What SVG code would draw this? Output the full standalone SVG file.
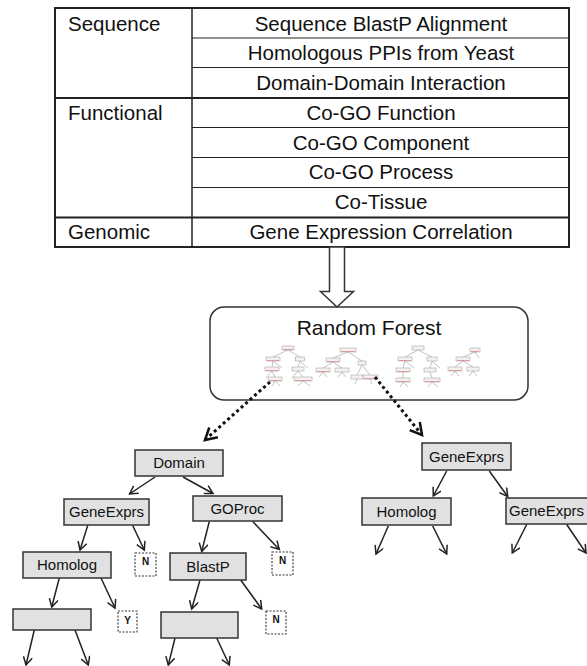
<svg xmlns="http://www.w3.org/2000/svg" width="587" height="666" viewBox="0 0 587 666">
<defs>
<style>
text{font-family:"Liberation Sans",Arial,sans-serif;fill:#111}
.tt{font-size:20.5px}
.tc{text-anchor:middle}
.nt{font-size:15px;text-anchor:middle}
.lt{font-size:10px;text-anchor:middle;font-weight:bold}
.box{fill:#e1e1e1;stroke:#333;stroke-width:1.5}
.leaf{fill:#fff;stroke:#333;stroke-width:1.1;stroke-dasharray:2 1.5}
.grid{stroke:#222;fill:none}
.arr{stroke:#222;stroke-width:1.5;fill:none;marker-end:url(#ah)}
.dot{stroke:#111;stroke-width:3;fill:none;stroke-dasharray:3 3;marker-end:url(#dh)}
.mb{fill:#f7f0f0;stroke:#a8a8a8;stroke-width:0.6}
.mr{stroke:#d98c8c;stroke-width:0.8}
.ml{stroke:#999;stroke-width:0.6;fill:none}
</style>
<marker id="ah" markerWidth="12" markerHeight="12" refX="9" refY="5" orient="auto" markerUnits="userSpaceOnUse">
<path d="M1,0.5 L9,5 L1,9.5" fill="none" stroke="#222" stroke-width="1.5"/>
</marker>
<marker id="dh" markerWidth="18" markerHeight="18" refX="13" refY="8" orient="auto" markerUnits="userSpaceOnUse">
<path d="M1.5,1.5 L13,8 L1.5,14.5" fill="none" stroke="#111" stroke-width="2.5"/>
</marker>
</defs>
<rect width="587" height="666" fill="#fff"/>

<g id="table">
<rect x="55" y="8" width="514" height="239" class="grid" stroke-width="2"/>
<line x1="192" y1="8" x2="192" y2="247" class="grid" stroke-width="1.5"/>
<line x1="55" y1="98" x2="569" y2="98" class="grid" stroke-width="2"/>
<line x1="55" y1="217.5" x2="569" y2="217.5" class="grid" stroke-width="2"/>
<g class="grid" stroke-width="1.2">
<line x1="192" y1="38" x2="569" y2="38"/>
<line x1="192" y1="67.5" x2="569" y2="67.5"/>
<line x1="192" y1="127.5" x2="569" y2="127.5"/>
<line x1="192" y1="157.5" x2="569" y2="157.5"/>
<line x1="192" y1="187.5" x2="569" y2="187.5"/>
</g>
<text class="tt" x="68" y="31">Sequence</text>
<text class="tt" x="68" y="120">Functional</text>
<text class="tt" x="68" y="239">Genomic</text>
<text class="tt tc" x="381" y="31">Sequence BlastP Alignment</text>
<text class="tt tc" x="381" y="60">Homologous PPIs from Yeast</text>
<text class="tt tc" x="381" y="89.5">Domain-Domain Interaction</text>
<text class="tt tc" x="381" y="120">Co-GO Function</text>
<text class="tt tc" x="381" y="150">Co-GO Component</text>
<text class="tt tc" x="381" y="179">Co-GO Process</text>
<text class="tt tc" x="381" y="209">Co-Tissue</text>
<text class="tt tc" x="381" y="239">Gene Expression Correlation</text>
</g>

<g id="random-forest">
<rect x="210" y="307" width="318" height="93" rx="14" fill="#fff" stroke="#333" stroke-width="1.5"/>
<text x="369" y="335" font-size="21" text-anchor="middle">Random Forest</text>
<g id="mini-trees">
<path class="ml" d="M288,350 L273,357 M288,350 L300,357 M273,361 L272,367 M273,361 L282,368 M300,361 L298,367 M300,361 L308,368 M272,371 L275,377 M272,371 L266,378 M298,371 L303,377 M298,371 L292,378 M275,381 L272,386 M275,381 L280,386 M303,381 L298,386 M303,381 L310,386"/>
<rect class="mb" x="282" y="346" width="12" height="4"/><line class="mr" x1="283" y1="349.5" x2="293" y2="349.5"/>
<rect class="mb" x="266" y="357" width="14" height="4"/><line class="mr" x1="267" y1="360.5" x2="279" y2="360.5"/>
<rect class="mb" x="295.5" y="357" width="9" height="4"/>
<rect class="mb" x="265" y="367" width="14" height="4"/><line class="mr" x1="266" y1="370.5" x2="278" y2="370.5"/>
<rect class="mb" x="292" y="367" width="12" height="4"/>
<rect class="mb" x="268" y="377" width="14" height="4"/><line class="mr" x1="269" y1="380.5" x2="281" y2="380.5"/>
<rect class="mb" x="294" y="377" width="18" height="4"/><line class="mr" x1="295" y1="380.5" x2="311" y2="380.5"/>

<path class="ml" d="M348,352 L333,358 M348,352 L362,361 M333,362 L323,368 M333,362 L342,368 M323,372 L319,377 M323,372 L327,377 M342,372 L338,377 M342,372 L346,377 M362,365 L357,375 M362,365 L370,375 M357,379 L355,384 M370,379 L372,384"/>
<rect class="mb" x="340" y="348" width="16" height="4"/><line class="mr" x1="341" y1="351.5" x2="355" y2="351.5"/>
<rect class="mb" x="326" y="358" width="14" height="4"/><line class="mr" x1="327" y1="361.5" x2="339" y2="361.5"/>
<rect class="mb" x="358" y="361" width="8" height="4"/>
<rect class="mb" x="316" y="368" width="14" height="4"/><line class="mr" x1="317" y1="371.5" x2="329" y2="371.5"/>
<rect class="mb" x="335" y="368" width="14" height="4"/>
<rect class="mb" x="351" y="375" width="12" height="4"/>
<rect class="mb" x="363" y="375" width="15" height="4"/><line class="mr" x1="364" y1="378.5" x2="377" y2="378.5"/>

<path class="ml" d="M418,350 L405,357 M418,350 L432,357 M405,361 L403,368 M405,361 L414,368 M432,361 L430,368 M432,361 L440,368 M403,372 L403,378 M430,372 L432,378 M403,382 L400,387 M403,382 L408,387 M432,382 L428,387 M432,382 L438,387"/>
<rect class="mb" x="412" y="346" width="12" height="4"/>
<rect class="mb" x="398" y="357" width="14" height="4"/><line class="mr" x1="399" y1="360.5" x2="411" y2="360.5"/>
<rect class="mb" x="427" y="357" width="10" height="4"/>
<rect class="mb" x="396" y="368" width="14" height="4"/><line class="mr" x1="397" y1="371.5" x2="409" y2="371.5"/>
<rect class="mb" x="424" y="368" width="12" height="4"/>
<rect class="mb" x="396" y="378" width="14" height="4"/><line class="mr" x1="397" y1="381.5" x2="409" y2="381.5"/>
<rect class="mb" x="424" y="378" width="16" height="4"/><line class="mr" x1="425" y1="381.5" x2="439" y2="381.5"/>

<path class="ml" d="M475,352 L463,357 M475,352 L479,358 M463,361 L455,367 M463,361 L473,367 M455,371 L451,376 M455,371 L459,376 M473,371 L469,376 M473,371 L477,376"/>
<rect class="mb" x="470" y="348" width="10" height="4"/><line class="mr" x1="471" y1="351.5" x2="479" y2="351.5"/>
<rect class="mb" x="456" y="357" width="14" height="4"/><line class="mr" x1="457" y1="360.5" x2="469" y2="360.5"/>
<rect class="mb" x="448" y="367" width="14" height="4"/><line class="mr" x1="449" y1="370.5" x2="461" y2="370.5"/>
<rect class="mb" x="467" y="367" width="12" height="4"/>
</g>
</g>

<g id="connectors">
<polygon points="329.5,247 344.5,247 344.5,291.5 353.5,291.5 337,307 320.5,291.5 329.5,291.5" fill="#fff" stroke="#333" stroke-width="1.5"/>
<path class="dot" d="M270,382 L205,440"/>
<path class="dot" d="M375,377 L422,435"/>
<path class="arr" d="M155,477 L129.5,494"/>
<path class="arr" d="M183,477 L213,493.5"/>
<path class="arr" d="M87.7,525.5 L80,550"/>
<path class="arr" d="M132.7,525.5 L144.3,550"/>
<path class="arr" d="M209.3,521.5 L201.7,551.5"/>
<path class="arr" d="M252.7,521.5 L279.3,549.5"/>
<path class="arr" d="M59.3,578 L51.7,607"/>
<path class="arr" d="M101,578 L115,608"/>
<path class="arr" d="M200,580 L191.7,609"/>
<path class="arr" d="M240.7,580 L261.7,609"/>
<path class="arr" d="M34.3,630 L26,665"/>
<path class="arr" d="M75,630 L88.3,665"/>
<path class="arr" d="M175,638 L168.3,665"/>
<path class="arr" d="M216.7,638 L229.3,665"/>
<path class="arr" d="M446.7,471 L433.3,496"/>
<path class="arr" d="M489.3,471 L507.7,496.5"/>
<path class="arr" d="M388.3,526 L376,554"/>
<path class="arr" d="M432.7,526 L446.7,554"/>
<path class="arr" d="M526.7,524.5 L512.3,553"/>
<path class="arr" d="M566.7,524.5 L586,553"/>
</g>

<g id="n-domain"><rect class="box" x="135" y="450" width="88" height="26"/><text class="nt" x="179" y="468">Domain</text></g>
<g id="n-geneexprs-l"><rect class="box" x="64" y="499" width="85" height="26"/><text class="nt" x="106.5" y="517">GeneExprs</text></g>
<g id="n-goproc"><rect class="box" x="193" y="496" width="89" height="25"/><text class="nt" x="237.5" y="514">GOProc</text></g>
<g id="n-homolog-l"><rect class="box" x="23" y="552" width="88" height="26"/><text class="nt" x="67" y="570">Homolog</text></g>
<g id="n-blastp"><rect class="box" x="170" y="553" width="76" height="27"/><text class="nt" x="208" y="571.5">BlastP</text></g>
<g id="n-empty-l"><rect class="box" x="13" y="609" width="78" height="21"/></g>
<g id="n-empty-m"><rect class="box" x="161" y="612" width="77" height="26"/></g>
<g id="leaf-n1"><rect class="leaf" x="135" y="553" width="21" height="23"/><text class="lt" x="145.5" y="565">N</text></g>
<g id="leaf-n2"><rect class="leaf" x="272" y="552" width="21" height="23"/><text class="lt" x="282.5" y="564">N</text></g>
<g id="leaf-y"><rect class="leaf" x="118" y="611" width="19" height="21"/><text class="lt" x="127.5" y="624">Y</text></g>
<g id="leaf-n3"><rect class="leaf" x="266" y="611" width="20" height="23"/><text class="lt" x="276" y="623">N</text></g>
<g id="n-geneexprs-r"><rect class="box" x="422" y="443" width="89" height="27"/><text class="nt" x="466.5" y="462">GeneExprs</text></g>
<g id="n-homolog-r"><rect class="box" x="362" y="498" width="89" height="27"/><text class="nt" x="406.5" y="517">Homolog</text></g>
<g id="n-geneexprs-rr"><rect class="box" x="506" y="498" width="90" height="26"/><text x="509" y="516" font-size="15">GeneExprs</text></g>
</svg>
